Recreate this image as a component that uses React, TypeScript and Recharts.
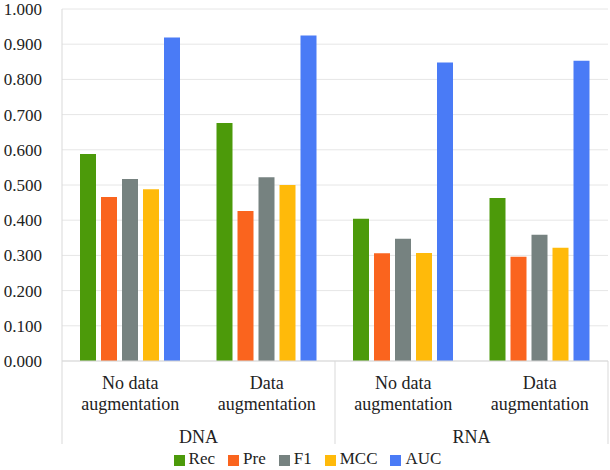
import React from "react"
import { BarChart, Bar, XAxis, YAxis, CartesianGrid, Legend } from "recharts"

const groups = ["DNA", "DNA", "RNA", "RNA"]
const subLabels = ["No data augmentation", "Data augmentation", "No data augmentation", "Data augmentation"]
const rec = [0.588, 0.676, 0.404, 0.463]
const pre = [0.466, 0.426, 0.306, 0.296]
const f1 = [0.517, 0.522, 0.347, 0.359]
const mcc = [0.488, 0.5, 0.307, 0.322]
const auc = [0.919, 0.925, 0.848, 0.853]
const yTicks = [0, 0.1, 0.2, 0.3, 0.4, 0.5, 0.6, 0.7, 0.8, 0.9, 1.0]

const series = [
  { key: "Rec", color: "#4C9A0A" },
  { key: "Pre", color: "#FA641E" },
  { key: "F1", color: "#768280" },
  { key: "MCC", color: "#FFBA0A" },
  { key: "AUC", color: "#4A7BF6" },
]

const data = subLabels.map((s, i) => ({
  name: `${groups[i]}|${s}`,
  Rec: rec[i],
  Pre: pre[i],
  F1: f1[i],
  MCC: mcc[i],
  AUC: auc[i],
}))

const W = 610
const H = 470
const LEFT = 62
const RIGHT = 2
const band = (W - LEFT - RIGHT) / data.length
const FONT = "Liberation Serif, Tinos, DejaVu Serif, serif"
const LINE = "#D9D9D9"

// tick y already sits 8px below the axis line (tickSize + tickMargin)
const CategoryTick = (props: any) => {
  const { x, y, payload, index } = props
  const [grp, sub] = String(payload.value).split("|")
  const words = sub.split(" ")
  const first = words.slice(0, -1).join(" ")
  const last = words[words.length - 1]
  const isGroupStart = index === 0 || groups[index - 1] !== grp
  const isLast = index === data.length - 1
  const top = y - 8
  const txt = { textAnchor: "middle" as const, fill: "#222", fontSize: 18, style: { fontFamily: FONT } }
  return (
    <g>
      <text x={x} y={top + 28} {...txt}>
        {first}
      </text>
      <text x={x} y={top + 49} {...txt}>
        {last}
      </text>
      {isGroupStart && (
        <>
          <line x1={x - band / 2} x2={x - band / 2} y1={top} y2={top + 83} stroke={LINE} />
          <text x={x + band / 2} y={top + 82} {...txt}>
            {grp}
          </text>
        </>
      )}
      {isLast && <line x1={x + band / 2} x2={x + band / 2} y1={top} y2={top + 83} stroke={LINE} />}
    </g>
  )
}

const legendFormatter = (value: string) => (
  <span style={{ color: "#222", fontSize: 17, fontFamily: FONT, marginRight: 3 }}>{value}</span>
)

const order = series.map((s) => s.key)

export default function App() {
  return (
    <div style={{ position: "fixed", left: 0, top: 0, width: W, height: H, background: "#fff", fontFamily: FONT }}>
      <BarChart
        width={W}
        height={H}
        data={data}
        margin={{ top: 9, right: RIGHT, left: 0, bottom: 0 }}
        barSize={16}
        barGap={5}
        style={{ fontFamily: FONT }}
      >
        <CartesianGrid vertical={false} stroke="#E6E6E6" />
        <XAxis
          dataKey="name"
          height={84}
          interval={0}
          axisLine={{ stroke: LINE }}
          tickLine={false}
          tick={<CategoryTick />}
        />
        <YAxis
          width={LEFT}
          domain={[0, 1]}
          ticks={yTicks}
          interval={0}
          tickFormatter={(v: number) => v.toFixed(3)}
          axisLine={{ stroke: LINE }}
          tickLine={false}
          tickSize={0}
          tickMargin={20}
          tick={{ fill: "#222", fontSize: 17, style: { fontFamily: FONT } }}
        />
        <Legend
          verticalAlign="bottom"
          height={25}
          iconType="square"
          iconSize={11}
          formatter={legendFormatter}
          itemSorter={(item: any) => order.indexOf(item.value)}
          wrapperStyle={{ top: 449, lineHeight: "20px", paddingLeft: 10 }}
        />
        {series.map((s) => (
          <Bar key={s.key} dataKey={s.key} fill={s.color} isAnimationActive={false} />
        ))}
      </BarChart>
    </div>
  )
}
